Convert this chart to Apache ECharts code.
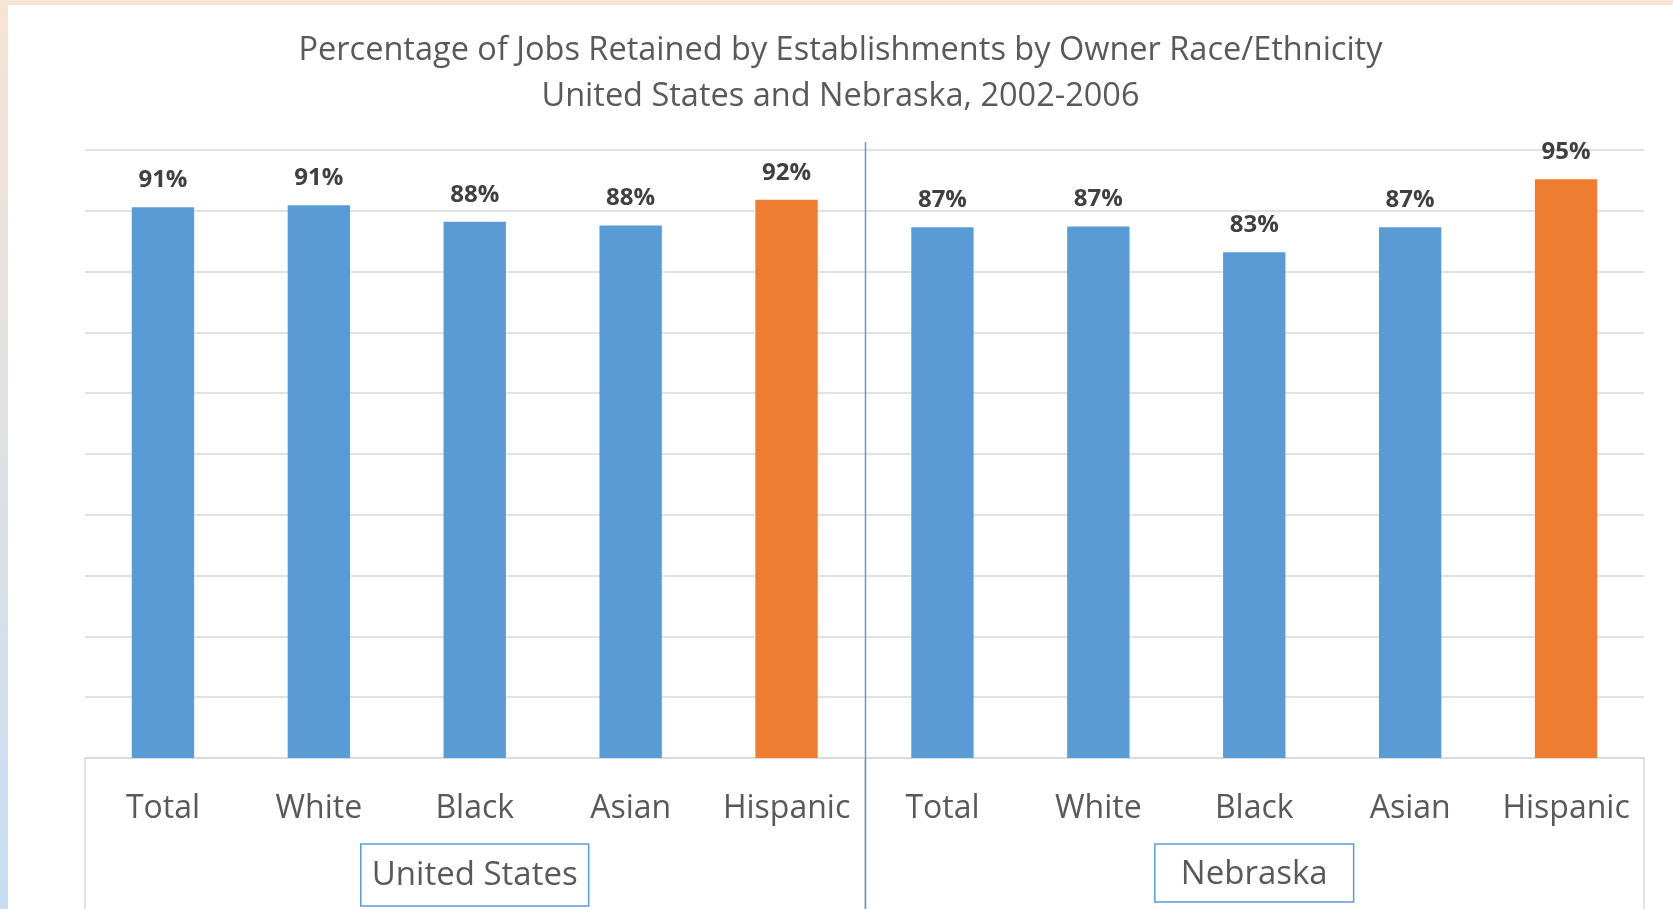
<!DOCTYPE html>
<html>
<head>
<meta charset="utf-8">
<title>Jobs Retained by Owner Race/Ethnicity</title>
<script src="https://cdn.jsdelivr.net/npm/echarts@6/dist/echarts.min.js"></script>
<style>
  html, body {
    margin: 0;
    padding: 0;
    width: 1673px;
    height: 909px;
    overflow: hidden;
    background: linear-gradient(to bottom, #f6e4d6, #c8ddf2);
  }
  #chart {
    position: absolute;
    left: 8px;
    top: 5px;
    width: 1665px;
    height: 904px;
    background: #ffffff;
  }
</style>
</head>
<body>
<div id="chart"></div>
<script>
const categories = ['Total', 'White', 'Black', 'Asian', 'Hispanic', 'Total', 'White', 'Black', 'Asian', 'Hispanic'];
const groups = ['United States', 'Nebraska'];
const retained = [90.6, 90.9, 88.2, 87.6, 91.8, 87.3, 87.4, 83.2, 87.3, 95.2];
const highlight = ['Hispanic'];

const blue = '#5b9bd5';
const orange = '#ed7d31';
const font = '"Open Sans", Lato, sans-serif';

const chart = echarts.init(document.getElementById('chart'));

const barData = retained.map(function (v, i) {
  return {
    value: v,
    itemStyle: { color: highlight.indexOf(categories[i]) >= 0 ? orange : blue }
  };
});

const boxStyle = function (pad) {
  return {
    fontFamily: font,
    fontSize: 33,
    color: '#595959',
    borderColor: blue,
    borderWidth: 1.5,
    padding: pad
  };
};

chart.setOption({
  animation: false,
  title: {
    text: 'Percentage of Jobs Retained by Establishments by Owner Race/Ethnicity\nUnited States and Nebraska, 2002-2006',
    left: 'center',
    top: 18,
    textStyle: {
      fontFamily: font,
      fontWeight: 'normal',
      fontSize: 32.5,
      lineHeight: 46,
      color: '#595959'
    }
  },
  grid: {
    left: 77,
    right: 29,
    top: 145,
    bottom: 151
  },
  xAxis: [
    {
      type: 'category',
      data: categories,
      axisLine: { lineStyle: { color: '#d9d9d9', width: 1.5 } },
      axisTick: { show: false },
      axisLabel: {
        interval: 0,
        fontFamily: font,
        fontSize: 32,
        color: '#595959',
        margin: 35
      }
    },
    {
      type: 'category',
      data: groups,
      position: 'bottom',
      axisLine: { show: false },
      axisTick: { show: true, length: 160, lineStyle: { color: '#d9d9d9', width: 1.5 } },
      axisLabel: {
        interval: 0,
        margin: 86,
        formatter: function (value, index) {
          return (index === 0 ? '{us|' : '{ne|') + value + '}';
        },
        rich: {
          us: boxStyle([15, 11, 14, 11]),
          ne: boxStyle([14, 26, 11, 26])
        }
      }
    }
  ],
  yAxis: {
    type: 'value',
    min: 0,
    max: 100,
    interval: 10,
    axisLabel: { show: false },
    axisLine: { show: false },
    axisTick: { show: false },
    splitLine: { lineStyle: { color: '#d9d9d9', width: 1.5 } }
  },
  series: [
    {
      type: 'bar',
      data: barData,
      barCategoryGap: '60%',
      label: {
        show: true,
        position: 'top',
        distance: 15,
        fontFamily: font,
        fontWeight: 'bold',
        fontSize: 24,
        color: '#404040',
        formatter: function (p) { return Math.round(p.value) + '%'; }
      }
    }
  ]
});

// divider between the two groups, placed from the axis scales
const xa = chart.convertToPixel({ xAxisIndex: 0 }, 4);
const xb = chart.convertToPixel({ xAxisIndex: 0 }, 5);
const yTop = chart.convertToPixel({ yAxisIndex: 0 }, 100);
const divX = Math.round((xa + xb) / 2) + 0.5;
chart.setOption({
  graphic: [
    {
      type: 'line',
      shape: { x1: divX, y1: yTop - 8, x2: divX, y2: chart.getHeight() },
      style: { stroke: blue, lineWidth: 1.5 },
      z: 10
    }
  ]
});

window.addEventListener('resize', function () { chart.resize(); });
</script>
</body>
</html>
